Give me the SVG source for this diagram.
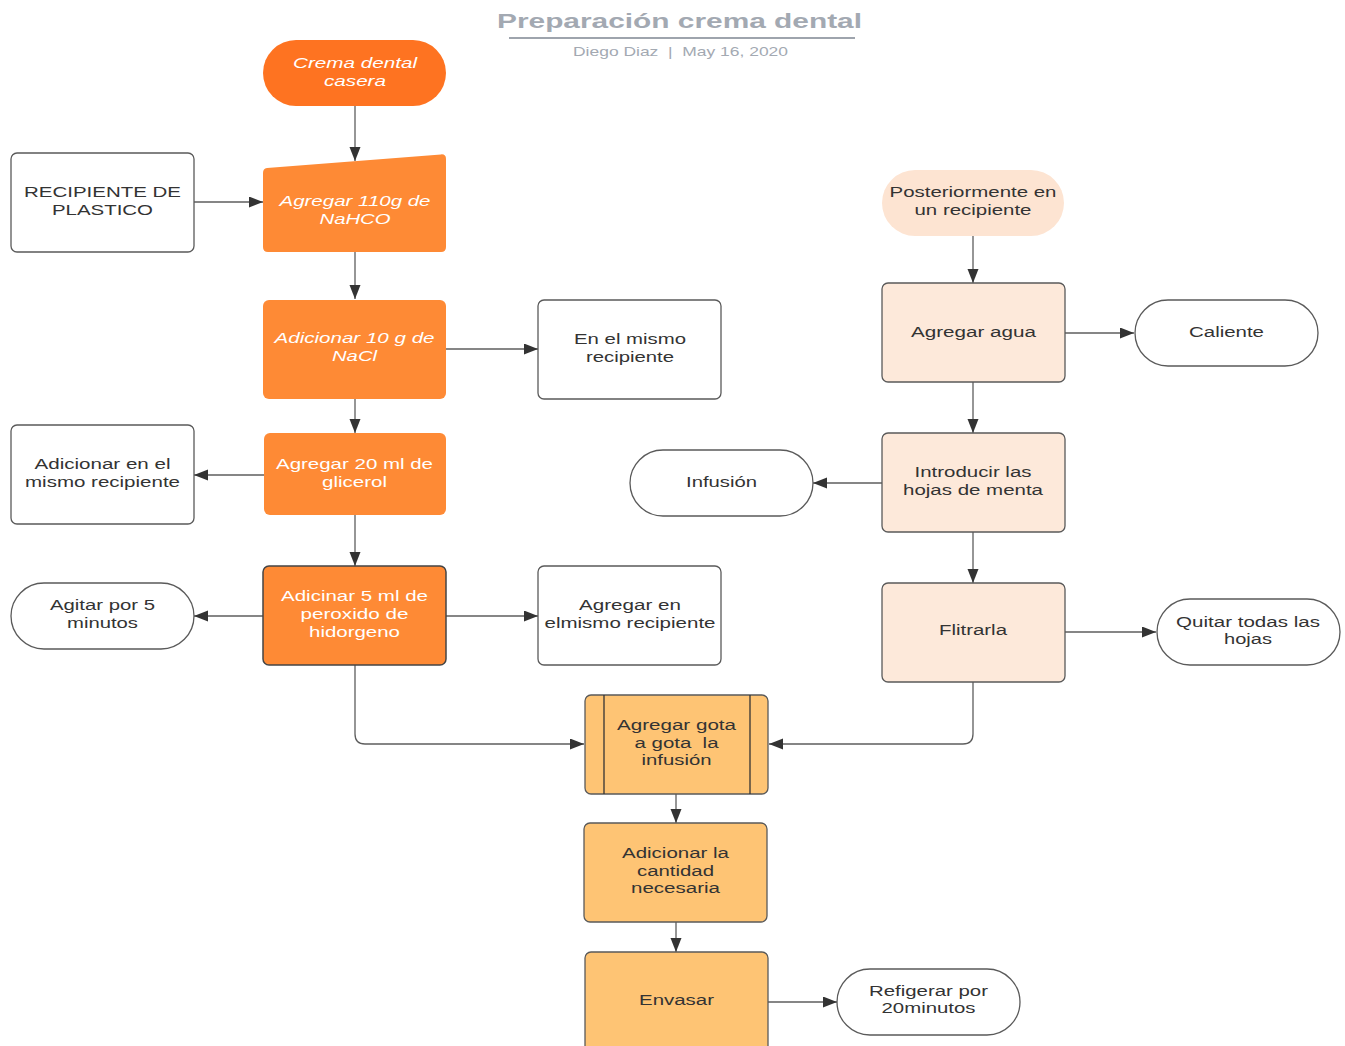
<svg xmlns="http://www.w3.org/2000/svg" width="1345" height="1046" viewBox="0 0 1345 1046">
  <style>
    .t { font-family: "Liberation Sans", Arial, sans-serif; font-size: 15.5px; fill: #333; text-anchor: middle; }
    .w { fill: #ffffff; }
    .i { font-style: italic; }
    .box { fill: #ffffff; stroke: #5a5a5a; stroke-width: 1.3; }
    .org { fill: #fe8a35; }
    .peach { fill: #fde9da; stroke: #5a5a5a; stroke-width: 1.3; }
    .gold { fill: #fec474; stroke: #5a5a5a; stroke-width: 1.3; }
    .conn path { fill: none; stroke: #5e5e5e; stroke-width: 1.3; marker-end: url(#arrow); }
    .head { font-family: "Liberation Sans", Arial, sans-serif; fill: #a3a9b2; text-anchor: middle; }
  </style>
  <defs>
    <marker id="arrow" markerUnits="userSpaceOnUse" markerWidth="16" markerHeight="12" refX="14" refY="5.5" orient="auto">
      <path d="M0,0 L14,5.5 L0,11 Z" fill="#333"/>
    </marker>
  </defs>
  <rect width="1345" height="1046" fill="#ffffff"/>

  <!-- heading -->
  <g id="title">
    <text class="head" x="679.5" y="28" font-size="21" font-weight="bold" textLength="365" lengthAdjust="spacingAndGlyphs">Preparación crema dental</text>
    <line x1="509" y1="38" x2="855" y2="38" stroke="#9ea4ad" stroke-width="2"/>
    <text class="head" x="680.5" y="56" font-size="13" textLength="215" lengthAdjust="spacingAndGlyphs" style="white-space:pre">Diego Diaz  |  May 16, 2020</text>
  </g>

  <!-- connectors -->
  <g id="connectors" class="conn">
    <path d="M355,106 V161"/>
    <path d="M194,202 H263"/>
    <path d="M355,252 V299"/>
    <path d="M446,349 H538"/>
    <path d="M355,398 V433"/>
    <path d="M264,475 H194"/>
    <path d="M355,515 V566"/>
    <path d="M263,616 H194"/>
    <path d="M446,616 H538"/>
    <path d="M355,665 V734 Q355,744 365,744 H584"/>
    <path d="M973,236 V283"/>
    <path d="M1065,333 H1134"/>
    <path d="M973,382 V433"/>
    <path d="M882,483 H813"/>
    <path d="M973,532 V583"/>
    <path d="M1065,632 H1156"/>
    <path d="M973,682 V734 Q973,744 963,744 H769"/>
    <path d="M676,794 V823"/>
    <path d="M676,922 V952"/>
    <path d="M768,1002 H837"/>
  </g>

  <!-- left branch: paste preparation -->
  <g id="crema-dental-casera">
    <rect x="263" y="40" width="183" height="66" rx="33" fill="#fe7321"/>
    <text class="t w i" x="355" y="68" textLength="124" lengthAdjust="spacingAndGlyphs">Crema dental</text>
    <text class="t w i" x="355" y="86" textLength="62" lengthAdjust="spacingAndGlyphs">casera</text>
  </g>

  <g id="agregar-nahco">
    <path class="org" d="M267,168 L441,154.4 Q446,154 446,159 V247 Q446,252 441,252 H268 Q263,252 263,247 V173 Q263,168.3 267,168 Z"/>
    <text class="t w i" x="355" y="206" textLength="151" lengthAdjust="spacingAndGlyphs">Agregar 110g de</text>
    <text class="t w i" x="355" y="224" textLength="71" lengthAdjust="spacingAndGlyphs">NaHCO</text>
  </g>

  <g id="recipiente-plastico">
    <rect class="box" x="11" y="153" width="183" height="99" rx="6"/>
    <text class="t" x="102.5" y="197" textLength="157" lengthAdjust="spacingAndGlyphs">RECIPIENTE DE</text>
    <text class="t" x="102.5" y="215" textLength="101" lengthAdjust="spacingAndGlyphs">PLASTICO</text>
  </g>

  <g id="adicionar-nacl">
    <rect class="org" x="263" y="300" width="183" height="99" rx="6"/>
    <text class="t w i" x="354.5" y="343" textLength="160" lengthAdjust="spacingAndGlyphs">Adicionar 10 g de</text>
    <text class="t w i" x="354.5" y="361" textLength="45" lengthAdjust="spacingAndGlyphs">NaCl</text>
  </g>

  <g id="en-el-mismo-recipiente">
    <rect class="box" x="538" y="300" width="183" height="99" rx="6"/>
    <text class="t" x="630" y="344" textLength="112" lengthAdjust="spacingAndGlyphs">En el mismo</text>
    <text class="t" x="630" y="362" textLength="88" lengthAdjust="spacingAndGlyphs">recipiente</text>
  </g>

  <g id="agregar-glicerol">
    <rect class="org" x="264" y="433" width="182" height="82" rx="6"/>
    <text class="t w" x="354.5" y="469" textLength="157" lengthAdjust="spacingAndGlyphs">Agregar 20 ml de</text>
    <text class="t w" x="354.5" y="487" textLength="65" lengthAdjust="spacingAndGlyphs">glicerol</text>
  </g>

  <g id="adicionar-mismo-recipiente">
    <rect class="box" x="11" y="425" width="183" height="99" rx="6"/>
    <text class="t" x="102.5" y="469" textLength="136" lengthAdjust="spacingAndGlyphs">Adicionar en el</text>
    <text class="t" x="102.5" y="487" textLength="155" lengthAdjust="spacingAndGlyphs">mismo recipiente</text>
  </g>

  <g id="adicinar-peroxido">
    <rect x="263" y="566" width="183" height="99" rx="6" fill="#fe8a35" stroke="#444" stroke-width="1.5"/>
    <text class="t w" x="354.5" y="601" textLength="147" lengthAdjust="spacingAndGlyphs">Adicinar 5 ml de</text>
    <text class="t w" x="354.5" y="619" textLength="108" lengthAdjust="spacingAndGlyphs">peroxido de</text>
    <text class="t w" x="354.5" y="637" textLength="91" lengthAdjust="spacingAndGlyphs">hidorgeno</text>
  </g>

  <g id="agitar">
    <rect class="box" x="11" y="583" width="183" height="66" rx="33"/>
    <text class="t" x="102.5" y="610" textLength="105" lengthAdjust="spacingAndGlyphs">Agitar por 5</text>
    <text class="t" x="102.5" y="628" textLength="71" lengthAdjust="spacingAndGlyphs">minutos</text>
  </g>

  <g id="agregar-elmismo-recipiente">
    <rect class="box" x="538" y="566" width="183" height="99" rx="6"/>
    <text class="t" x="630" y="610" textLength="102" lengthAdjust="spacingAndGlyphs">Agregar en</text>
    <text class="t" x="630" y="628" textLength="171" lengthAdjust="spacingAndGlyphs">elmismo recipiente</text>
  </g>

  <!-- right branch: mint infusion -->
  <g id="posteriormente">
    <rect x="882" y="170" width="182" height="66" rx="33" fill="#fde4d2"/>
    <text class="t" x="973" y="197" textLength="167" lengthAdjust="spacingAndGlyphs">Posteriormente en</text>
    <text class="t" x="973" y="215" textLength="117" lengthAdjust="spacingAndGlyphs">un recipiente</text>
  </g>

  <g id="agregar-agua">
    <rect class="peach" x="882" y="283" width="183" height="99" rx="6"/>
    <text class="t" x="973.5" y="337" textLength="125" lengthAdjust="spacingAndGlyphs">Agregar agua</text>
  </g>

  <g id="caliente">
    <rect class="box" x="1135" y="300" width="183" height="66" rx="33"/>
    <text class="t" x="1226.5" y="337" textLength="75" lengthAdjust="spacingAndGlyphs">Caliente</text>
  </g>

  <g id="introducir-hojas">
    <rect class="peach" x="882" y="433" width="183" height="99" rx="6"/>
    <text class="t" x="973" y="477" textLength="117" lengthAdjust="spacingAndGlyphs">Introducir las</text>
    <text class="t" x="973" y="495" textLength="140" lengthAdjust="spacingAndGlyphs">hojas de menta</text>
  </g>

  <g id="infusion">
    <rect class="box" x="630" y="450" width="183" height="66" rx="33"/>
    <text class="t" x="721.5" y="487" textLength="71" lengthAdjust="spacingAndGlyphs">Infusión</text>
  </g>

  <g id="flitrarla">
    <rect class="peach" x="882" y="583" width="183" height="99" rx="6"/>
    <text class="t" x="973" y="635" textLength="68" lengthAdjust="spacingAndGlyphs">Flitrarla</text>
  </g>

  <g id="quitar-hojas">
    <rect class="box" x="1157" y="599" width="183" height="66" rx="33"/>
    <text class="t" x="1248" y="627" textLength="144" lengthAdjust="spacingAndGlyphs">Quitar todas las</text>
    <text class="t" x="1248" y="644" textLength="48" lengthAdjust="spacingAndGlyphs">hojas</text>
  </g>

  <!-- joined steps -->
  <g id="agregar-gota-a-gota">
    <rect class="gold" x="585" y="695" width="183" height="99" rx="6"/>
    <line x1="604" y1="695" x2="604" y2="794" stroke="#333" stroke-width="1.3"/>
    <line x1="750" y1="695" x2="750" y2="794" stroke="#333" stroke-width="1.3"/>
    <text class="t" x="676.5" y="730" textLength="119" lengthAdjust="spacingAndGlyphs">Agregar gota</text>
    <text class="t" x="676.5" y="748" textLength="84" lengthAdjust="spacingAndGlyphs" style="white-space:pre">a gota  la</text>
    <text class="t" x="676.5" y="765" textLength="70" lengthAdjust="spacingAndGlyphs">infusión</text>
  </g>

  <g id="adicionar-cantidad">
    <rect class="gold" x="584" y="823" width="183" height="99" rx="6"/>
    <text class="t" x="675.5" y="858" textLength="107" lengthAdjust="spacingAndGlyphs">Adicionar la</text>
    <text class="t" x="675.5" y="876" textLength="77" lengthAdjust="spacingAndGlyphs">cantidad</text>
    <text class="t" x="675.5" y="893" textLength="89" lengthAdjust="spacingAndGlyphs">necesaria</text>
  </g>

  <g id="envasar">
    <rect class="gold" x="585" y="952" width="183" height="110" rx="6"/>
    <text class="t" x="676.5" y="1005" textLength="75" lengthAdjust="spacingAndGlyphs">Envasar</text>
  </g>

  <g id="refrigerar">
    <rect class="box" x="837" y="969" width="183" height="66" rx="33"/>
    <text class="t" x="928.5" y="996" textLength="119" lengthAdjust="spacingAndGlyphs">Refigerar por</text>
    <text class="t" x="928.5" y="1013" textLength="94" lengthAdjust="spacingAndGlyphs">20minutos</text>
  </g>
</svg>
